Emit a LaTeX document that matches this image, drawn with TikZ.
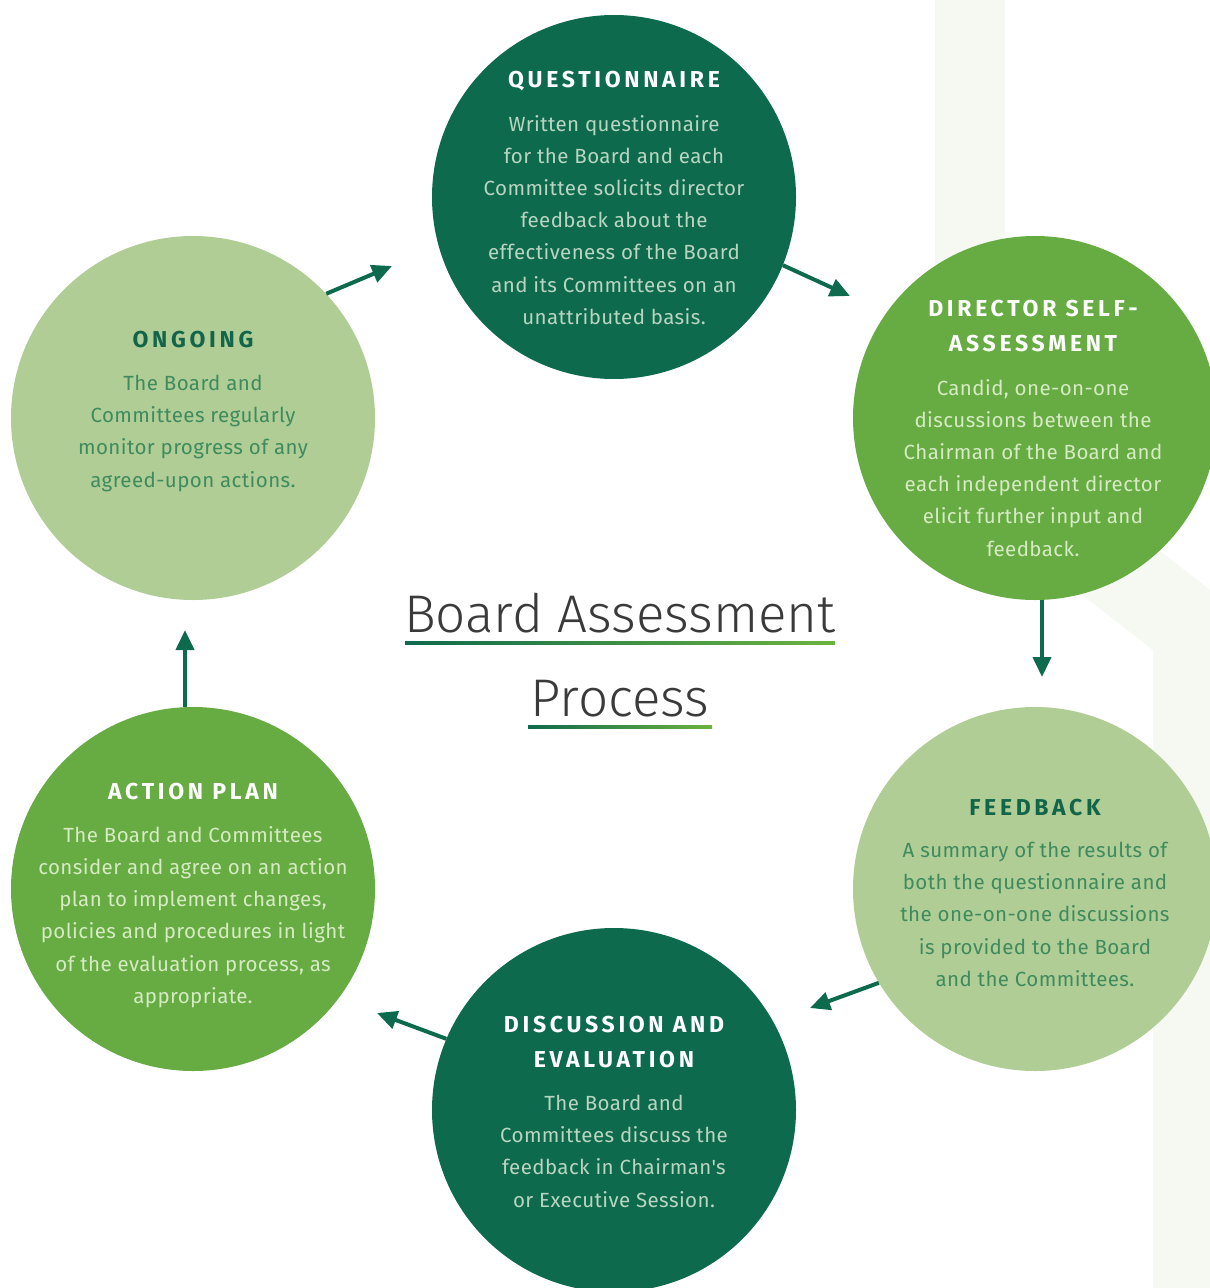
\documentclass[tikz,border=0pt]{standalone}
\usepackage{fontspec}
\usetikzlibrary{arrows.meta}
\setmainfont{Fira Sans}
\newfontfamily\bodyfont[LetterSpace=2]{Fira Sans}
\newfontfamily\titlefont[LetterSpace=16]{Fira Sans}
\IfFontExistsTF{Fira Sans Light}{\newfontfamily\thinfont{Fira Sans Light}}{%
  \IfFontExistsTF{DejaVu Sans ExtraLight}{\newfontfamily\thinfont{DejaVu Sans ExtraLight}}{\newfontfamily\thinfont{Fira Sans}}}
\definecolor{dkgreen}{HTML}{0E6A4D}
\definecolor{mdgreen}{HTML}{66AC42}
\definecolor{ltgreen}{HTML}{AFCD95}
\definecolor{bgband}{HTML}{F6F9F2}
\definecolor{txtondark}{HTML}{B9D5C2}
\definecolor{txtonmd}{HTML}{D6EAC4}
\definecolor{txtonlt}{HTML}{3F8B5E}
\definecolor{ttlonlt}{HTML}{13654A}
\definecolor{headgray}{HTML}{3A3A3A}
\definecolor{lineend}{HTML}{6DB33F}
\begin{document}
\begin{tikzpicture}[x=1pt,y=-1pt,
  stage/.style={circle,minimum size=364pt,inner sep=0pt,draw=none},
  ttl/.style={anchor=north,inner sep=0pt,align=center,font=\titlefont\bfseries\fontsize{23}{35}\selectfont},
  body/.style={anchor=north,inner sep=0pt,align=center,font=\bodyfont\fontsize{20.5}{32.2}\selectfont},
  head/.style={anchor=base,inner sep=0pt,text=headgray,font=\thinfont\fontsize{53}{60}\selectfont},
  flow/.style={draw=dkgreen,line width=4pt,-{Triangle[width=18pt,length=20pt]},fill=dkgreen}]
\useasboundingbox (0,0) rectangle (1210,1288);
\fill[white] (0,0) rectangle (1210,1288);
% faint background band
\fill[bgband] (935,0) -- (1005,0) -- (1005,430) -- (1210,590) -- (1210,1288) -- (1153,1288) -- (1153,650) -- (935,480) -- cycle;
% circles
\node[stage,fill=dkgreen] (q) at (614,197) {};
\node[stage,fill=mdgreen] (d) at (1035,418) {};
\node[stage,fill=ltgreen] (f) at (1035,889) {};
\node[stage,fill=dkgreen] (e) at (614,1110) {};
\node[stage,fill=mdgreen] (a) at (193,889) {};
\node[stage,fill=ltgreen] (o) at (193,418) {};
% texts
\node[ttl,text=white] (qt) at (614,71) {QUESTIONNAIRE};
\node[body,text=txtondark] (qb) at (614,115) {Written questionnaire\\for the Board and each\\Committee solicits director\\feedback about the\\effectiveness of the Board\\and its Committees on an\\unattributed basis.};
\node[ttl,text=white] (dt) at (1033,300) {DIRECTOR SELF-\\ASSESSMENT};
\node[body,text=txtonmd] (db) at (1033,379) {Candid, one-on-one\\discussions between the\\Chairman of the Board and\\each independent director\\elicit further input and\\feedback.};
\node[ttl,text=ttlonlt] (ft) at (1035,799) {FEEDBACK};
\node[body,text=txtonlt] (fb) at (1035,842) {A summary of the results of\\both the questionnaire and\\the one-on-one discussions\\is provided to the Board\\and the Committees.};
\node[ttl,text=white] (et) at (614,1016) {DISCUSSION AND\\EVALUATION};
\node[body,text=txtondark] (eb) at (614,1095) {The Board and\\Committees discuss the\\feedback in Chairman's\\or Executive Session.};
\node[ttl,text=white] (at) at (193,783) {ACTION PLAN};
\node[body,text=txtonmd] (ab) at (193,826) {The Board and Committees\\consider and agree on an action\\plan to implement changes,\\policies and procedures in light\\of the evaluation process, as\\appropriate.};
\node[ttl,text=ttlonlt] (ot) at (193,331) {ONGOING};
\node[body,text=txtonlt] (ob) at (193,375) {The Board and\\Committees regularly\\monitor progress of any\\agreed-upon actions.};
% heading
\node[head] (h1) at (620,632) {Board Assessment};
\node[head] (h2) at (620,716) {Process};
\shade[left color=dkgreen,right color=lineend] (405,641.5) rectangle (835,644.5);
\shade[left color=dkgreen,right color=lineend] (528,725.5) rectangle (712,728.5);
% arrow tips
\coordinate (tq) at (392,266);
\coordinate (td) at (850,296);
\coordinate (tf) at (1042,677);
\coordinate (te) at (810,1008);
\coordinate (ta) at (377,1013);
\coordinate (to) at (185,630);
\draw[flow] (o.43.7) -- (tq);
\draw[flow] (q.-22.6) -- (td);
\draw[flow] (d.south -| tf) -- (tf);
\draw[flow] (f.-149) -- (te);
\draw[flow] (e.157.3) -- (ta);
\draw[flow] (a.north -| to) -- (to);
\end{tikzpicture}
\end{document}
